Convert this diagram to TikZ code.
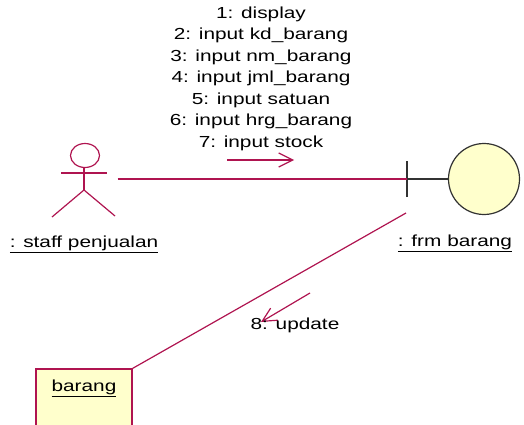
\documentclass[tikz,border=0pt]{standalone}
\usepackage{fontspec}
\newfontfamily\umlfont[FakeStretch=1.3]{Liberation Sans}
\usetikzlibrary{arrows.meta}
\definecolor{linkred}{RGB}{175,20,80}
\definecolor{umlyellow}{RGB}{255,255,204}
\definecolor{edgegray}{RGB}{50,50,50}

\begin{document}
\begin{tikzpicture}[x=1pt,y=-1pt,line width=1.2pt,
	every node/.style={inner sep=0,font=\umlfont\fontsize{16}{21.5}\selectfont,text=black},
	link/.style={draw=linkred},
	msg/.style={draw=linkred,-{Straight Barb[length=14pt,width=14pt]}}]
	\useasboundingbox (0,0) rectangle (524,425);
	
	%ACTOR
	\node[minimum width=65pt,minimum height=78pt] (staff) at (84.5,179) {};
	\draw[linkred] (85,155.5) ellipse [x radius=14.5pt,y radius=12pt];
	\draw[linkred] (84,167.5)--(84,190);
	\draw[linkred] (61,173)--(107,173);
	\draw[linkred] (52,217)--(84,190)--(115,216);
	\node[anchor=base] (staffname) at (84,247) {\underline{: staff penjualan}};
	
	%BOUNDARY
	\node[circle,draw=edgegray,fill=umlyellow,minimum size=71pt] (frm) at (484,179) {};
	\coordinate (frmbar) at (407,179);
	\draw[edgegray] ([yshift=-18pt]frmbar)--([yshift=18pt]frmbar);
	\draw[edgegray] (frmbar)--(frm.west);
	\node[anchor=base] (frmname) at (455,246) {\underline{: frm barang}};
	
	%ENTITY
	\node[draw=linkred,fill=umlyellow,minimum width=96pt,minimum height=57pt] (barang) at (84,397.5) {};
	\node[anchor=base] (barangname) at (84,391) {\underline{barang}};
	
	%LINKS
	\draw[link] (staff.east)--(frmbar);
	\coordinate (frmlow) at (406,213);
	\draw[link] (frmlow)--(barang.north east);
	
	%MESSAGES
	\coordinate (m1a) at (227,160);
	\coordinate (m1b) at (294,160);
	\draw[msg] (m1a)--(m1b);
	\node[anchor=north,align=center] (msgtop) at (261,6) {1: display\\2: input kd\_barang\\3: input nm\_barang\\4: input jml\_barang\\5: input satuan\\6: input hrg\_barang\\7: input stock};
	\coordinate (m8a) at (310,293);
	\coordinate (m8b) at (261,322);
	\draw[msg] (m8a)--(m8b);
	\node[anchor=base] (msgbottom) at (295,329) {8: update};
\end{tikzpicture}
\end{document}
